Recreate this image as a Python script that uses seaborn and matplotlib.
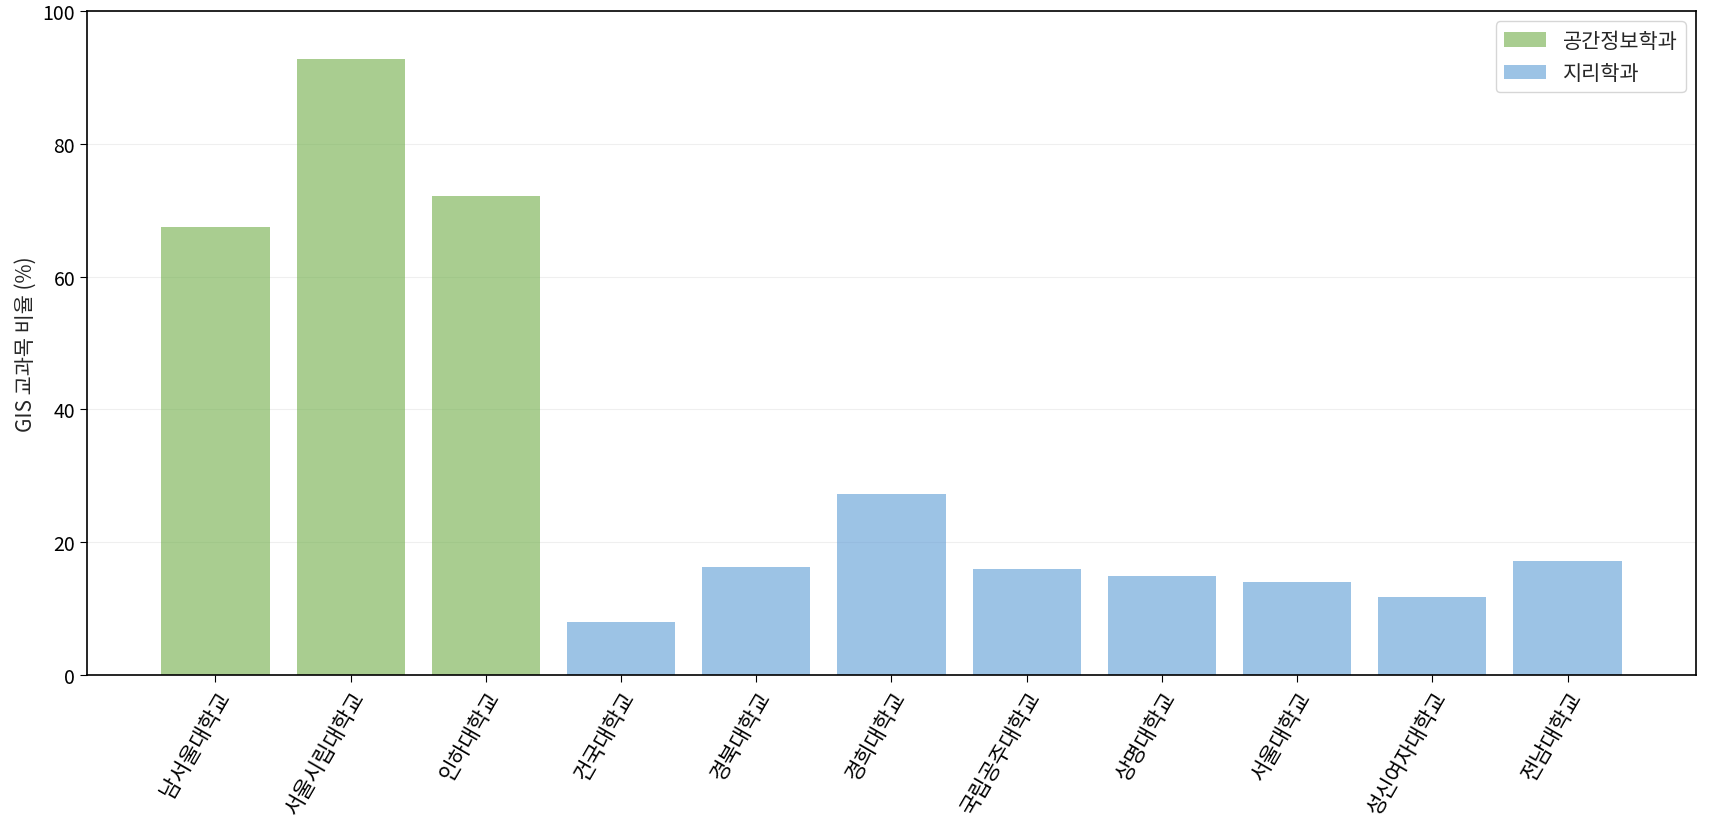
import matplotlib
matplotlib.use("Agg")
import matplotlib.pyplot as plt
import seaborn as sns
import pandas as pd

universities = ["남서울대학교", "서울시립대학교", "인하대학교", "건국대학교", "경북대학교",
                "경희대학교", "국립공주대학교", "상명대학교", "서울대학교", "성신여자대학교", "전남대학교"]
departments = ["공간정보학과", "공간정보학과", "공간정보학과", "지리학과", "지리학과",
               "지리학과", "지리학과", "지리학과", "지리학과", "지리학과", "지리학과"]
gis_ratio = [67.5, 92.7, 72.2, 8.0, 16.2, 27.2, 16.0, 14.9, 14.0, 11.8, 17.2]
palette = {"공간정보학과": "#70AD47", "지리학과": "#5B9BD5"}

sns.set_style("ticks")
plt.rcParams["font.family"] = ["Noto Sans CJK KR", "DejaVu Sans"]

df = pd.DataFrame({"대학": universities, "학과": departments, "비율": gis_ratio})

fig = plt.figure(figsize=(17.09, 8.2), dpi=100)
ax = fig.add_axes([0.0509, 0.1756, 0.9415, 0.8098])

sns.barplot(data=df, x="대학", y="비율", hue="학과", palette=palette, alpha=0.6,
            saturation=1, dodge=False, width=0.8, linewidth=0, ax=ax)

ax.set_xlim(-0.95, 10.95)
ax.set_ylim(0, 100)
ax.set_xlabel("")
ax.set_ylabel("GIS 교과목 비율 (%)", fontsize=15)
ax.grid(axis="y", alpha=0.3)
ax.set_axisbelow(True)
ax.tick_params(axis="y", labelsize=14, colors="black", length=5)
ax.tick_params(axis="x", labelsize=15.5, colors="black", length=5)
plt.setp(ax.get_xticklabels(), rotation=60, ha="right", rotation_mode="anchor")
for s in ax.spines.values():
    s.set_visible(True)
    s.set_color("black")
    s.set_linewidth(1.2)

leg = ax.legend(loc="upper right", fontsize=15, title=None, frameon=True)

fig.savefig("out.png", dpi=100)
